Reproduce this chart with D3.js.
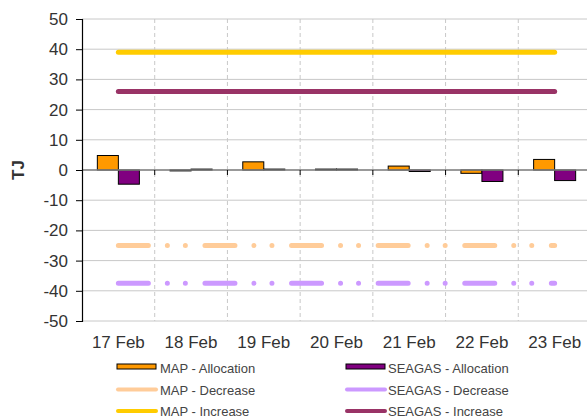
<!DOCTYPE html>
<html>
<head>
<meta charset="utf-8">
<script src="https://cdn.jsdelivr.net/npm/d3@7"></script>
<style>
  body { margin: 0; background: #fff; }
  svg { display: block; font-family: "Liberation Sans", Arial, sans-serif; }
</style>
</head>
<body>
<div id="chart"></div>
<script>
// 数据
const days = ["17 Feb", "18 Feb", "19 Feb", "20 Feb", "21 Feb", "22 Feb", "23 Feb"];
const mapAllocation = [4.8, -0.3, 2.7, 0.3, 1.3, -1.1, 3.5];
const seagasAllocation = [-4.7, 0.3, 0.3, 0.3, -0.5, -3.8, -3.5];
const mapDecrease = [-25, -25, -25, -25, -25, -25, -25];
const seagasDecrease = [-37.5, -37.5, -37.5, -37.5, -37.5, -37.5, -37.5];
const mapIncrease = [39, 39, 39, 39, 39, 39, 39];
const seagasIncrease = [26, 26, 26, 26, 26, 26, 26];
const yTicks = [50, 40, 30, 20, 10, 0, -10, -20, -30, -40, -50];

const barSeries = [
  { name: "MAP - Allocation", values: mapAllocation, color: "#FF9900" },
  { name: "SEAGAS - Allocation", values: seagasAllocation, color: "#800080" },
];
const lineSeries = [
  { name: "MAP - Decrease", values: mapDecrease, color: "#FFCC99", dash: "30,19,0,18,0,19.6" },
  { name: "SEAGAS - Decrease", values: seagasDecrease, color: "#CC99FF", dash: "30,19,0,18,0,19.6" },
  { name: "MAP - Increase", values: mapIncrease, color: "#FFCC00", dash: null },
  { name: "SEAGAS - Increase", values: seagasIncrease, color: "#993366", dash: null },
];

const width = 587, height = 419;
const mLeft = 82, mTop = 19, plotW = 509, plotH = 302;

const svg = d3.select("#chart").append("svg")
  .attr("width", width)
  .attr("height", height);

const x = d3.scaleBand().domain(days).range([mLeft, mLeft + plotW]);
const xs = d3.scaleBand().domain(barSeries.map((d) => d.name))
  .range([0, x.bandwidth()]).paddingInner(0).paddingOuter(0.73);
const y = d3.scaleLinear().domain([-50, 50]).range([mTop + plotH, mTop]);

// 水平网格线
svg.append("g")
  .selectAll("line")
  .data(yTicks)
  .join("line")
  .attr("x1", mLeft).attr("x2", mLeft + plotW)
  .attr("y1", (d) => y(d)).attr("y2", (d) => y(d))
  .attr("stroke", "#c8c8c8")
  .attr("stroke-width", 1);

// 垂直虚线
svg.append("g")
  .selectAll("line")
  .data(days.slice(1))
  .join("line")
  .attr("x1", (d) => x(d)).attr("x2", (d) => x(d))
  .attr("y1", mTop).attr("y2", mTop + plotH)
  .attr("stroke", "#c8c8c8")
  .attr("stroke-dasharray", "4,3");

// 柱子
barSeries.forEach((s) => {
  svg.append("g")
    .selectAll("rect")
    .data(s.values)
    .join("rect")
    .attr("x", (d, i) => x(days[i]) + xs(s.name))
    .attr("width", xs.bandwidth())
    .attr("y", (d) => y(Math.max(0, d)))
    .attr("height", (d) => Math.abs(y(d) - y(0)))
    .attr("fill", s.color)
    .attr("stroke", "#000")
    .attr("stroke-width", 1);
});

// 零线 + x刻度
svg.append("line")
  .attr("x1", mLeft).attr("x2", mLeft + plotW)
  .attr("y1", y(0)).attr("y2", y(0))
  .attr("stroke", "#808080")
  .attr("stroke-width", 1.5);
svg.append("g")
  .selectAll("line")
  .data(days.slice(1))
  .join("line")
  .attr("x1", (d) => x(d)).attr("x2", (d) => x(d))
  .attr("y1", y(0)).attr("y2", y(0) + 5)
  .attr("stroke", "#000");

// 折线
const line = d3.line()
  .x((d, i) => x(days[i]) + x.bandwidth() / 2)
  .y((d) => y(d));
lineSeries.forEach((s) => {
  svg.append("path")
    .datum(s.values)
    .attr("d", line)
    .attr("fill", "none")
    .attr("stroke", s.color)
    .attr("stroke-width", 5)
    .attr("stroke-linecap", "round")
    .attr("stroke-dasharray", s.dash);
});

// y轴 (普通连字符做负号)
const yAxis = svg.append("g")
  .attr("transform", `translate(${mLeft},0)`)
  .call(d3.axisLeft(y).tickValues(yTicks).tickFormat((d) => String(d)).tickSize(6).tickPadding(8));
yAxis.select(".domain").attr("stroke", "#000").attr("stroke-width", 1.2);
yAxis.selectAll(".tick line").attr("stroke", "#000");
yAxis.selectAll("text")
  .attr("font-size", "17px")
  .attr("font-family", "Liberation Sans, Arial, sans-serif")
  .attr("fill", "#333");

// y轴标题
svg.append("text")
  .attr("transform", `translate(24,${y(0)}) rotate(-90)`)
  .attr("text-anchor", "middle")
  .attr("font-size", "17px")
  .attr("font-weight", "bold")
  .attr("fill", "#333")
  .text("TJ");

// x轴标签
svg.append("g")
  .selectAll("text")
  .data(days)
  .join("text")
  .attr("x", (d) => x(d) + x.bandwidth() / 2)
  .attr("y", 348)
  .attr("text-anchor", "middle")
  .attr("font-size", "17px")
  .attr("fill", "#333")
  .text((d) => d);

// 图例
const legendItems = [
  { s: barSeries[0], type: "bar", col: 0, row: 0 },
  { s: barSeries[1], type: "bar", col: 1, row: 0 },
  { s: lineSeries[0], type: "line", col: 0, row: 1 },
  { s: lineSeries[1], type: "line", col: 1, row: 1 },
  { s: lineSeries[2], type: "line", col: 0, row: 2 },
  { s: lineSeries[3], type: "line", col: 1, row: 2 },
];
const legend = svg.append("g")
  .selectAll("g")
  .data(legendItems)
  .join("g")
  .attr("transform", (d) => `translate(${d.col ? 346 : 117},${368 + d.row * 21.5})`);
legend.each(function (d) {
  const g = d3.select(this);
  if (d.type === "bar") {
    g.append("rect")
      .attr("x", 0).attr("y", -4)
      .attr("width", 39).attr("height", 5)
      .attr("fill", d.s.color)
      .attr("stroke", "#000");
  } else {
    g.append("line")
      .attr("x1", 1).attr("x2", 39)
      .attr("y1", 0).attr("y2", 0)
      .attr("stroke", d.s.color)
      .attr("stroke-width", 4)
      .attr("stroke-linecap", "round");
  }
  g.append("text")
    .attr("x", d.col ? 42 : 43)
    .attr("y", 5)
    .attr("font-size", "13px")
    .attr("fill", "#444")
    .text(d.s.name);
});
</script>
</body>
</html>
